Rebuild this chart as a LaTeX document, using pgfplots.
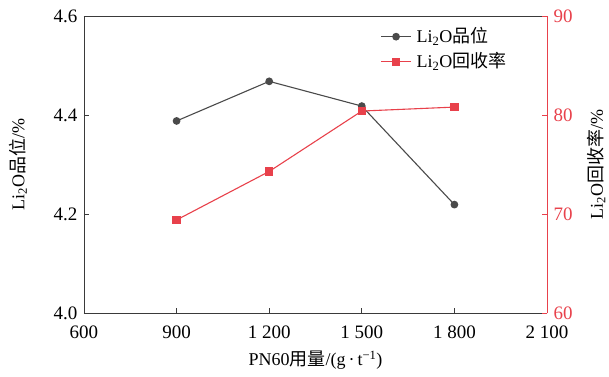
\documentclass[border=0pt]{standalone}
\usepackage{pgfplots}
\pgfplotsset{compat=1.18}
\usepackage{fontspec}
\setmainfont{Liberation Serif}
\newfontfamily\cjk{Noto Sans CJK SC}
\definecolor{gline}{HTML}{4A4A4A}
\definecolor{rline}{HTML}{E8414B}
\definecolor{frame}{HTML}{3A3A3A}
\begin{document}
\fontsize{19}{22}\selectfont
\begin{tikzpicture}
\useasboundingbox (-84pt,-63pt) rectangle (525pt,313pt);
\pgfplotsset{
  base/.style={
    scale only axis, width=463pt, height=297pt,
    xmin=600, xmax=2100,
    xtick={600,900,1200,1500,1800,2100},
    tick align=inside,
    major tick length=5pt,
    /pgf/number format/assume math mode=true,
    /pgf/number format/1000 sep={\ },
    tick label style={font=\fontsize{19}{22}\selectfont},
    label style={font=\fontsize{18}{21}\selectfont},
  }
}
\begin{axis}[base,
  axis y line*=left,
  axis x line*=bottom,
  axis line style={frame, line width=0.9pt},
  tick style={frame, line width=0.9pt},
  ymin=4.0, ymax=4.6,
  ytick={4.0,4.2,4.4,4.6},
  yticklabel style={/pgf/number format/fixed, /pgf/number format/fixed zerofill, /pgf/number format/precision=1},
  xticklabel style={yshift=-6pt},
  xlabel={PN60{\cjk 用量}/(g\,·\,t\textsuperscript{−1})},
  xlabel style={at={(axis description cs:0.5,-0.158)}, anchor=center},
  ylabel={Li\textsubscript{2}O{\cjk 品位}/\%},
  ylabel style={at={(axis description cs:-0.1425,0.5)}, anchor=center},
]
\addplot[gline, line width=1.1pt, mark=*, mark size=3.3pt, mark options={fill=gline, draw=gline}]
 coordinates {(900,4.388) (1200,4.468) (1500,4.418) (1800,4.219)};
\draw[frame, line width=0.9pt] (axis cs:600,4.6) -- (axis cs:2100,4.6);
\end{axis}
\begin{axis}[base,
  axis y line*=right,
  axis x line=none,
  y axis line style={rline, line width=0.9pt},
  ytick style={rline, line width=0.9pt},
  yticklabel style={text=rline},
  ymin=60, ymax=90,
  ytick={60,70,80,90},
  ylabel={Li\textsubscript{2}O{\cjk 回收率}/\%},
  ylabel style={at={(axis description cs:1.107,0.5)}, anchor=center, rotate=0},
  legend style={draw=none, fill=none, at={(axis description cs:0.64,0.975)}, anchor=north west,
    font=\fontsize{18}{21}\selectfont, row sep=3pt, cells={anchor=west}, inner xsep=0pt,
    /tikz/every odd column/.append style={column sep=3pt}},
  legend image code/.code={\draw[mark repeat=2, mark phase=2, #1] plot coordinates {(0pt,0pt) (15pt,0pt) (30pt,0pt)};},
]
\addlegendimage{gline, line width=1.1pt, mark=*, mark size=3.3pt, mark options={fill=gline, draw=gline}}
\addlegendentry{Li\textsubscript{2}O{\cjk 品位}}
\addplot[rline, line width=1.1pt, mark=square*, mark size=3.6pt, mark options={fill=rline, draw=rline}]
 coordinates {(900,69.4) (1200,74.3) (1500,80.4) (1800,80.8)};
\addlegendentry{Li\textsubscript{2}O{\cjk 回收率}}
\end{axis}
\end{tikzpicture}
\end{document}
